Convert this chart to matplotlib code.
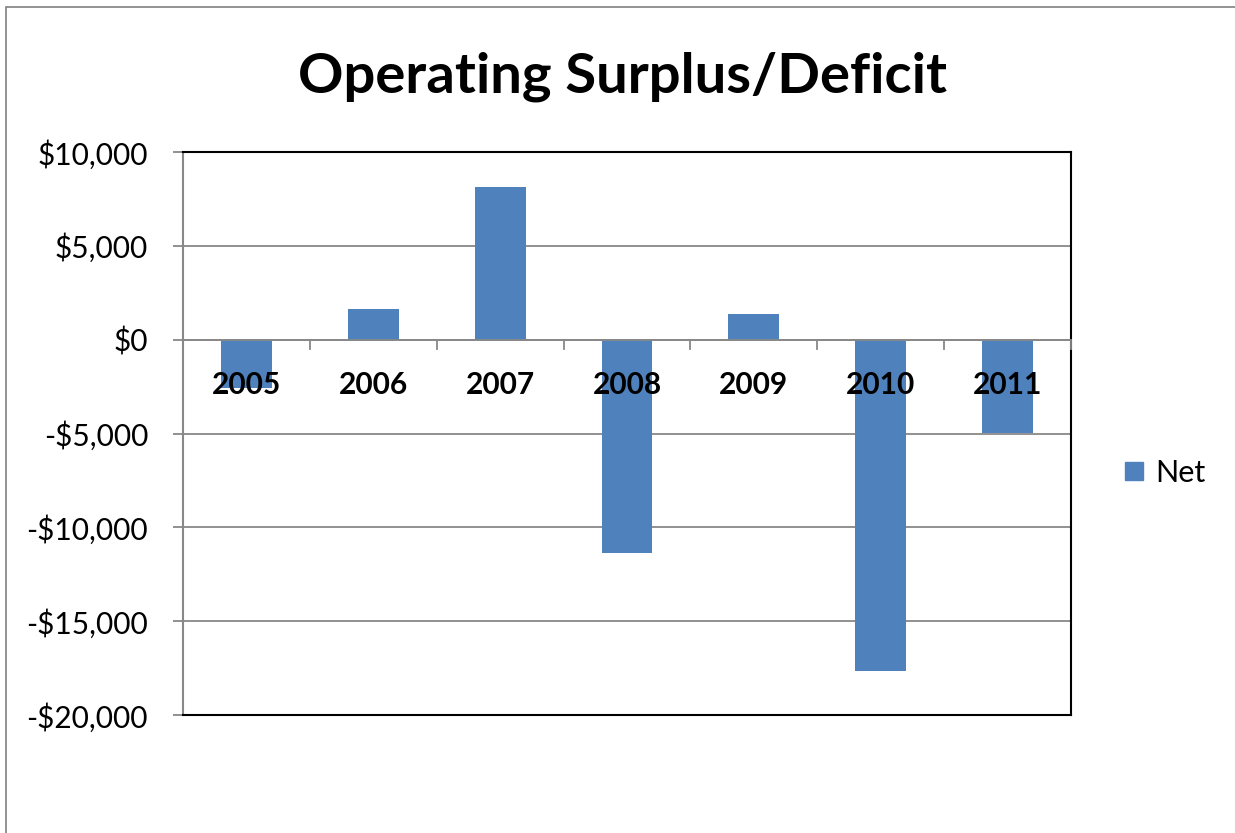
import matplotlib
matplotlib.use("Agg")
import matplotlib.pyplot as plt
from matplotlib.patches import Rectangle
from matplotlib.lines import Line2D

years = ["2005", "2006", "2007", "2008", "2009", "2010", "2011"]
net = [-2550, 1650, 8150, -11350, 1390, -17630, -4950]
yticks = [10000, 5000, 0, -5000, -10000, -15000, -20000]
ytick_labels = ["$10,000", "$5,000", "$0", "-$5,000", "-$10,000", "-$15,000", "-$20,000"]

plt.rcParams['font.family'] = ['Lato', 'DejaVu Sans']

fig = plt.figure(figsize=(12.35, 8.33), dpi=100)
# outer chart border
fig.patches.append(Rectangle((6/1235, -0.01), 1.2, 1 - 7/833 + 0.01, transform=fig.transFigure,
                             fill=False, edgecolor="#808080", linewidth=1.2))

ax = fig.add_axes([183/1235, 1 - 715/833, (1071 - 183)/1235, (715 - 152)/833])
x = list(range(len(years)))
ax.bar(x, net, width=0.4, color="#4F81BD", zorder=3, label="Net")
ax.set_xlim(-0.5, 6.5)
ax.set_ylim(-20000, 10000)
ax.set_yticks(yticks)
ax.set_yticklabels(ytick_labels, fontsize=21.5)
ax.yaxis.grid(True, color="#888888", linewidth=1.3, zorder=0)
ax.tick_params(axis='y', length=7.2, width=1.3, color="#888888", pad=18)
ax.set_xticks([])
for s in ["top", "right", "bottom"]:
    ax.spines[s].set_color("black")
    ax.spines[s].set_linewidth(1.5)
ax.spines["left"].set_color("#888888")
ax.spines["left"].set_linewidth(1.5)

# zero axis with category boundary ticks
ax.axhline(0, color="#888888", linewidth=1.3, zorder=4)
for b in [i - 0.5 for i in range(len(years) + 1)]:
    ax.plot([b, b], [0, -520], color="#888888", linewidth=1.3, zorder=4, clip_on=False)

for xi, lab in zip(x, years):
    ax.text(xi, -2400, lab, ha="center", va="center", fontsize=21.5, fontweight="bold", zorder=5)

fig.text(622/1235, 1 - 77/833, "Operating Surplus/Deficit", ha="center", va="center",
         fontsize=40.5, fontweight="bold")

handle = Line2D([], [], marker="s", linestyle="none", markersize=13, color="#4F81BD")
fig.legend([handle], ["Net"], loc="center left", bbox_to_anchor=(1091/1235, 1 - 473/833),
           frameon=False, fontsize=22, handletextpad=0.2, handlelength=1.0)

fig.savefig("out.png", dpi=100)
